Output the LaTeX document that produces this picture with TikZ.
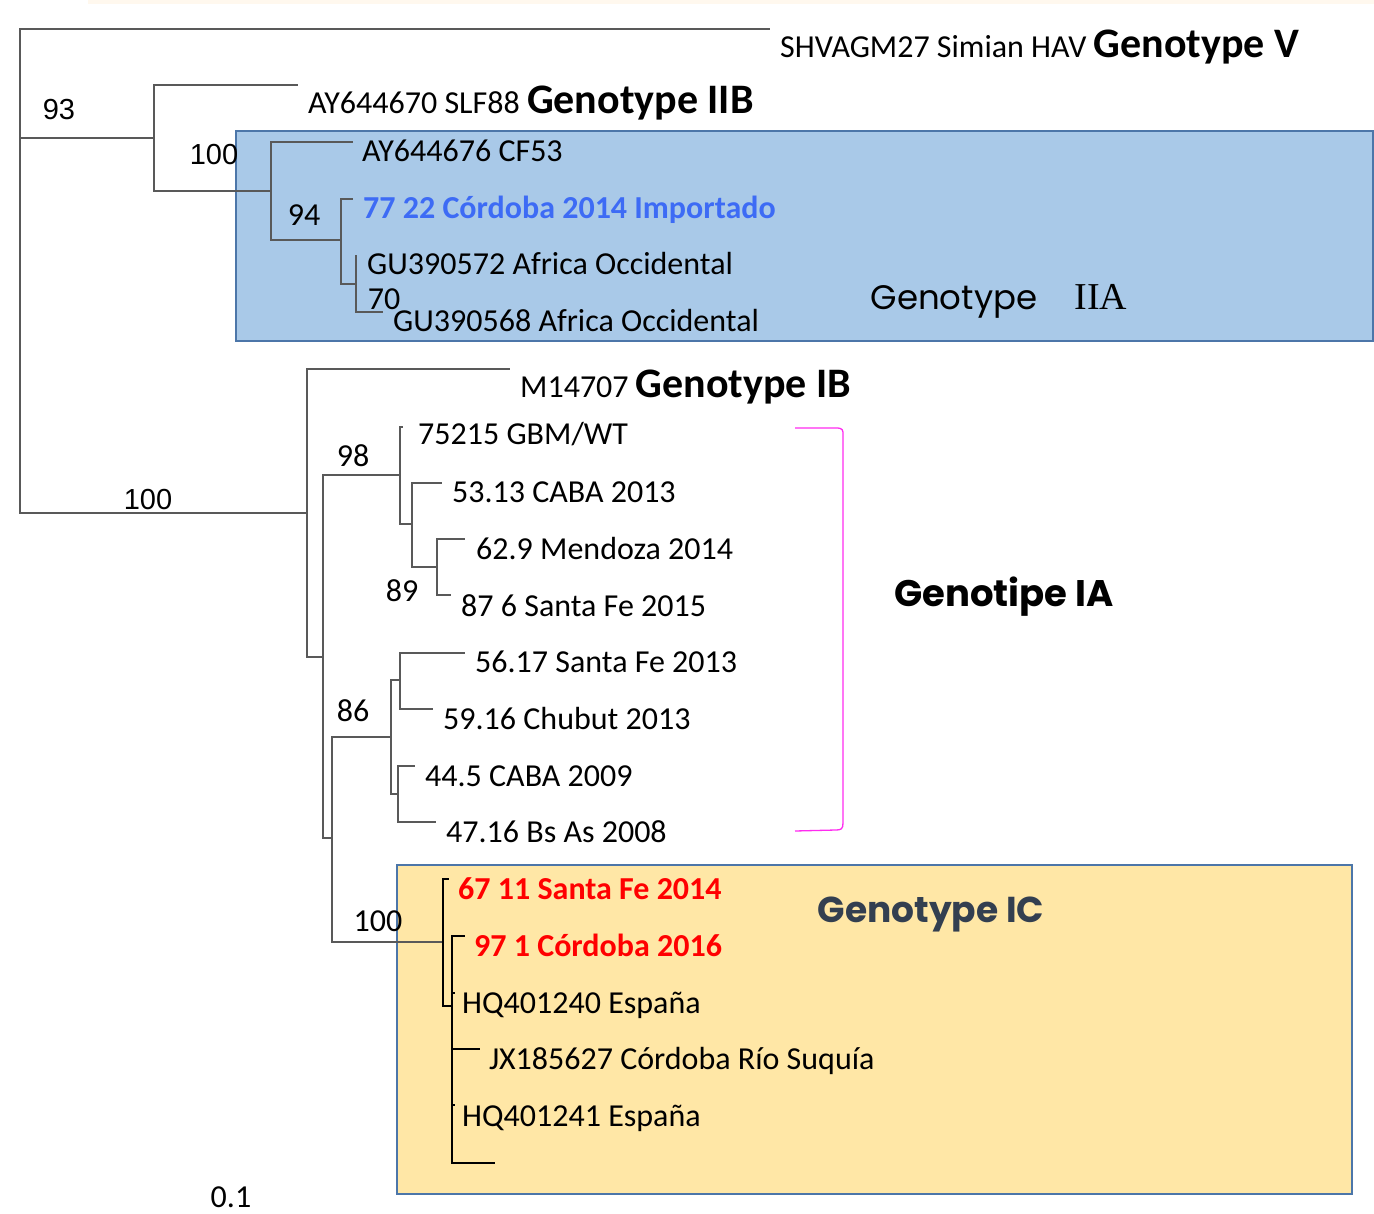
\documentclass[tikz,border=0pt]{standalone}
\usepackage{fontspec}
\usepackage{tikz}
\setmainfont{Carlito}
\newfontfamily\arialf{Liberation Sans}
\newfontfamily\comicf{Poppins}
\newfontfamily\timesf{Liberation Serif}
\definecolor{iiafill}{HTML}{A9C9E8}
\definecolor{boxedge}{HTML}{4C76A9}
\definecolor{icfill}{HTML}{FFE7A6}
\definecolor{impblue}{HTML}{3D6BF5}
\definecolor{icdark}{HTML}{333F50}
\definecolor{pinkline}{HTML}{FF2BF0}
\definecolor{stripfill}{HTML}{FFF8EE}
\newcommand\leaffont{\fontsize{32}{38}\selectfont}
\newcommand\bigfont{\fontsize{42}{48}\selectfont\bfseries}
\tikzset{
  branch/.style={draw=black!65, line width=1.4pt},
  icbranch/.style={draw=black, line width=1.2pt},
  leaf/.style={anchor=base west, inner sep=0pt, font=\leaffont},
  boot/.style={inner sep=0pt, font=\leaffont},
  arialboot/.style={inner sep=0pt, font=\arialf\fontsize{29}{34}\selectfont},
  cladelabel/.style={inner sep=0pt, anchor=base},
}

\begin{document}
\begin{tikzpicture}[x=1pt,y=-1pt]
\useasboundingbox (0,0) rectangle (1374,1214);
\fill [stripfill] (88,0) rectangle (1374,4);
\draw [fill=iiafill, draw=boxedge, line width=2.2pt] (236,131) rectangle (1373,341);
\draw [fill=icfill, draw=boxedge, line width=2.2pt] (397,865) rectangle (1352,1194);

\coordinate (root) at (20,138);
\coordinate (n93) at (154,138);
\coordinate (nIIA) at (271,191);
\coordinate (n94) at (341,240);
\coordinate (n70) at (356,284);
\coordinate (nI) at (307,513);
\coordinate (nIAC) at (323,657);
\coordinate (n98) at (400,475);
\coordinate (n89a) at (412,524);
\coordinate (n89) at (437,567);
\coordinate (n86c) at (332,838);
\coordinate (n86) at (391,737);
\coordinate (nSF) at (400,680);
\coordinate (nBA) at (398,794);
\coordinate (nIC) at (443,942);
\coordinate (nICb) at (452,1006);

\coordinate (tV) at (770,29);
\coordinate (tIIB) at (298,85);
\coordinate (tCF) at (353,142);
\coordinate (tImp) at (353,199);
\coordinate (tGU72) at (356,255);
\coordinate (tGU68) at (383,312);
\coordinate (tIB) at (510,369);
\coordinate (tGBM) at (403,427);
\coordinate (tCABA13) at (442,483);
\coordinate (tMen) at (465,539);
\coordinate (tSF15) at (451,595);
\coordinate (tSF13) at (465,653);
\coordinate (tChu) at (433,709);
\coordinate (tCABA09) at (415,766);
\coordinate (tBsAs) at (436,822);
\coordinate (tSF14) at (449,879);
\coordinate (tCor16) at (465,936);
\coordinate (tHQ40) at (455,993);
\coordinate (tJX) at (480,1049);
\coordinate (tHQ41) at (455,1105);
\coordinate (tlast) at (495,1163);

\draw [branch] (root) |- (tV);
\draw [branch] (root) |- (n93);
\draw [branch] (root) |- (nI);
\draw [branch] (n93) |- (tIIB);
\draw [branch] (n93) |- (nIIA);
\draw [branch] (nIIA) |- (tCF);
\draw [branch] (nIIA) |- (n94);
\draw [branch] (n94) |- (tImp);
\draw [branch] (n94) |- (n70);
\draw [branch] (n70) |- (tGU72);
\draw [branch] (n70) |- (tGU68);
\draw [branch] (nI) |- (tIB);
\draw [branch] (nI) |- (nIAC);
\draw [branch] (nIAC) |- (n98);
\draw [branch] (nIAC) |- (n86c);
\draw [branch] (n98) |- (tGBM);
\draw [branch] (n98) |- (n89a);
\draw [branch] (n89a) |- (tCABA13);
\draw [branch] (n89a) |- (n89);
\draw [branch] (n89) |- (tMen);
\draw [branch] (n89) |- (tSF15);
\draw [branch] (n86c) |- (n86);
\draw [branch] (n86c) |- (nIC);
\draw [branch] (n86) |- (nSF);
\draw [branch] (n86) |- (nBA);
\draw [branch] (nSF) |- (tSF13);
\draw [branch] (nSF) |- (tChu);
\draw [branch] (nBA) |- (tCABA09);
\draw [branch] (nBA) |- (tBsAs);
\draw [icbranch] (nIC) |- (tSF14);
\draw [icbranch] (nIC) |- (nICb);
\draw [icbranch] (nICb) |- (tCor16);
\draw [icbranch] (nICb) |- (tHQ40);
\draw [icbranch] (nICb) |- (tJX);
\draw [icbranch] (nICb) |- (tHQ41);
\draw [icbranch] (nICb) |- (tlast);

\node (lV) [leaf] at (780,58) {SHVAGM27 Simian HAV {\bigfont Genotype V}};
\node (lIIB) [leaf] at (308,114) {AY644670 SLF88 {\bigfont Genotype IIB}};
\node (lCF) [leaf] at (362,162) {AY644676 CF53};
\node (lImp) [leaf, text=impblue, font=\leaffont\bfseries] at (363,219) {77 22 Córdoba 2014 Importado};
\node (lGU72) [leaf] at (367,275) {GU390572 Africa Occidental};
\node (lGU68) [leaf] at (393,332) {GU390568 Africa Occidental};
\node (lIB) [leaf] at (520,398) {M14707 {\bigfont Genotype IB}};
\node (lGBM) [leaf] at (418,445) {75215 GBM/WT};
\node (lCABA13) [leaf] at (452,502) {53.13 CABA 2013};
\node (lMen) [leaf] at (476,559) {62.9 Mendoza 2014};
\node (lSF15) [leaf] at (461,616) {87 6 Santa Fe 2015};
\node (lSF13) [leaf] at (475,672) {56.17 Santa Fe 2013};
\node (lChu) [leaf] at (443,729) {59.16 Chubut 2013};
\node (lCABA09) [leaf] at (425,786) {44.5 CABA 2009};
\node (lBsAs) [leaf] at (446,842) {47.16 Bs As 2008};
\node (lSF14) [leaf, text=red, font=\leaffont\bfseries] at (458,899) {67 11 Santa Fe 2014};
\node (lCor16) [leaf, text=red, font=\leaffont\bfseries] at (474,956) {97 1 Córdoba 2016};
\node (lHQ40) [leaf] at (462,1013) {HQ401240 España};
\node (lJX) [leaf] at (489,1069) {JX185627 Córdoba Río Suquía};
\node (lHQ41) [leaf] at (462,1126) {HQ401241 España};

\node (b93) [arialboot] at (59,110) {93};
\node (b100a) [arialboot] at (214,155) {100};
\node (b100b) [arialboot] at (148,500) {100};
\node (b94) [boot] at (304,215) {94};
\node (b70) [boot] at (384,299) {70};
\node (b98) [boot] at (353,456) {98};
\node (b89) [boot] at (402,591) {89};
\node (b86) [boot] at (353,711) {86};
\node (b100c) [boot] at (378,921) {100};
\node (scale) [boot] at (231,1197) {0.1};

\node (gIIA) [cladelabel, font=\comicf\fontsize{34}{40}\selectfont] at (954,310) {Genotype};
\node (gIIAb) [cladelabel, font=\timesf\fontsize{38}{44}\selectfont] at (1101,310) {IIA};
\node (gIA) [cladelabel, font=\comicf\bfseries\fontsize{37}{42}\selectfont] at (1004,606) {Genotipe IA};
\node (gIC) [cladelabel, text=icdark, font=\comicf\bfseries\fontsize{36}{42}\selectfont] at (931,922) {Genotype IC};

\draw [pinkline, line width=1.3pt] (795,428) -- (836,428) .. controls (843,428) and (843,430) .. (843,435) -- (843,823) .. controls (843,829) and (841,830) .. (836,830) -- (795,831);
\end{tikzpicture}
\end{document}
